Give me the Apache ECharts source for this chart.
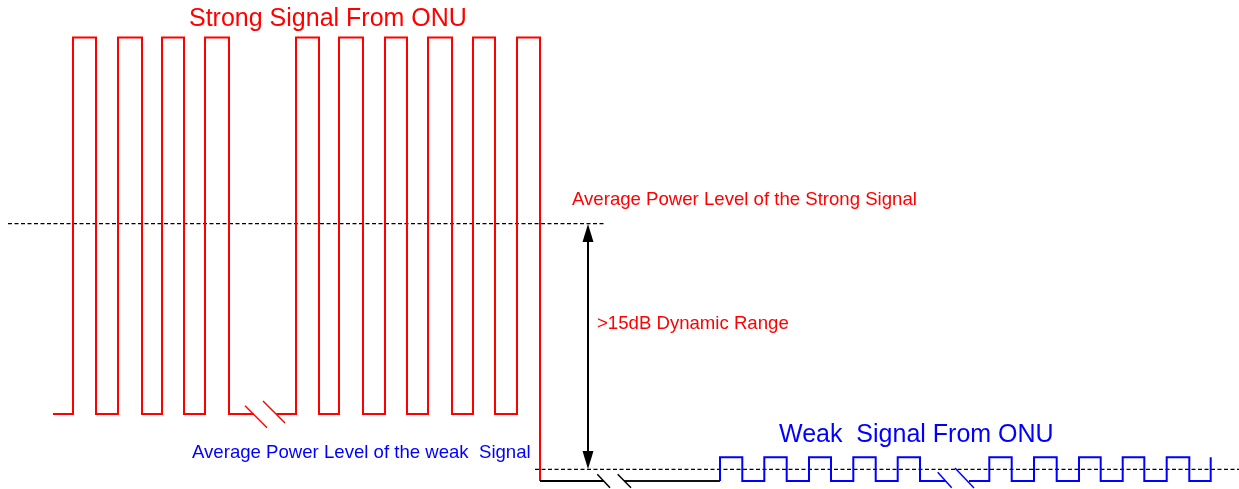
<!DOCTYPE html>
<html>
<head>
<meta charset="utf-8">
<script src="https://cdn.jsdelivr.net/npm/echarts@6/dist/echarts.min.js"></script>
<style>
html,body{margin:0;padding:0;background:#fff;}
#chart{width:1239px;height:489px;}
</style>
</head>
<body>
<div id="chart"></div>
<script>
// ---- Data (diagram coordinates in a 1239 x 489 value space) ----
const strongLevels = { high: 37.5, low: 414, end: 481 };
const weakLevels = { high: 457.3, low: 481 };
const strongStartX = 53;
const strongEdgesA = [73, 96, 118, 142, 162, 184, 205, 229];
const strongBreakGap = [253.6, 276.3];
const strongEdgesB = [296, 319, 339, 363, 385, 407, 428, 452, 473, 495, 517, 540];
const baselineGap = [603.7, 624];
const weakStartX = 720;
const weakEdgesA = [720, 742.3, 764.3, 786.7, 809, 831, 853.3, 875.7, 897.7, 920];
const weakBreakGap = [945.6, 969];
const weakEdgesB = [989.3, 1011.7, 1034, 1056.7, 1079, 1100.7, 1122.7, 1144.3, 1166.7, 1189.3, 1210.7];
const strongAvgLine = { y: 223.7, from: 8, to: 605 };
const weakAvgLine = { y: 469.3, from: 535, to: 1239 };
const rangeArrow = { x: 588, top: 224, bottom: 469 };
const breakRed = [[[245, 405.7], [267, 427.7]], [[263, 401], [285, 423]]];
const breakBlack = [[[597.3, 474.3], [610, 487.7]], [[617.7, 474.3], [631, 487.7]]];
const breakBlue = [[[937.7, 472.3], [951.7, 487.7]], [[955, 468], [974, 488]]];
const labelTexts = ['Strong Signal From ONU', 'Average Power Level of the Strong Signal', '>15dB Dynamic Range', 'Average Power Level of the weak  Signal', 'Weak  Signal From ONU'];
const labelPos = [[189, 19], [572, 200], [597, 324], [192, 453], [779, 435]];
const labelColor = ['#ff0000', '#ff0000', '#ff0000', '#0000ff', '#0000ff'];
const labelSize = [25, 18.6, 18.6, 18.6, 25];

// ---- build polylines from the edge lists ----
function square(startX, startLevel, edges, hi, lo, endX, lastLevel) {
  const pts = [[startX, startLevel]];
  let cur = startLevel;
  edges.forEach((x, i) => {
    pts.push([x, cur]);
    let next = cur === hi ? lo : hi;
    if (i === edges.length - 1 && lastLevel !== undefined) next = lastLevel;
    pts.push([x, next]);
    cur = next;
  });
  if (endX !== undefined) pts.push([endX, cur]);
  return pts;
}
const strongA = square(strongStartX, strongLevels.low, strongEdgesA, strongLevels.high, strongLevels.low, strongBreakGap[0]);
const strongB = square(strongBreakGap[1], strongLevels.low, strongEdgesB, strongLevels.high, strongLevels.low, undefined, strongLevels.end);
const weakA = square(weakStartX, weakLevels.low, weakEdgesA, weakLevels.high, weakLevels.low, weakBreakGap[0]);
const weakB = square(weakBreakGap[1], weakLevels.low, weakEdgesB, weakLevels.high, weakLevels.low);
const blackA = [[strongEdgesB[strongEdgesB.length - 1], weakLevels.low], [baselineGap[0], weakLevels.low]];
const blackB = [[baselineGap[1], weakLevels.low], [weakStartX, weakLevels.low]];

function lineSeries(data, color, width, type) {
  return {
    type: 'line', data: data, symbol: 'none', silent: true, animation: false,
    lineStyle: { color: color, width: width, type: type || 'solid', cap: 'butt', join: 'miter' },
    z: 3
  };
}

const series = [];
series.push(Object.assign(lineSeries([[strongAvgLine.from, strongAvgLine.y], [strongAvgLine.to, strongAvgLine.y]], '#000', 1.3, [4, 2.5]), { z: 1 }));
series.push(Object.assign(lineSeries([[weakAvgLine.from, weakAvgLine.y], [weakAvgLine.to, weakAvgLine.y]], '#000', 1.3, [4, 2.5]), { z: 1 }));
series.push(lineSeries(strongA, '#ff0000', 2));
series.push(lineSeries(strongB, '#ff0000', 2));
series.push(lineSeries(blackA, '#000000', 2));
series.push(lineSeries(blackB, '#111111', 2));
series.push(lineSeries(weakA, '#0000ff', 2));
series.push(lineSeries(weakB, '#0000ff', 2));
breakRed.forEach(s => series.push(lineSeries(s, '#ff0000', 1.5)));
breakBlack.forEach(s => series.push(lineSeries(s, '#000000', 1.5)));
breakBlue.forEach(s => series.push(lineSeries(s, '#0000ff', 1.5)));
// arrow shaft
series.push(lineSeries([[rangeArrow.x, rangeArrow.top + 10], [rangeArrow.x, rangeArrow.bottom - 10]], '#000000', 2));
// arrow heads
series.push({
  type: 'custom', silent: true, animation: false, z: 4,
  data: [[rangeArrow.x, rangeArrow.top, 1], [rangeArrow.x, rangeArrow.bottom, -1]],
  renderItem: function (params, api) {
    const p = api.coord([api.value(0), api.value(1)]);
    const d = api.value(2);
    return {
      type: 'polygon',
      shape: { points: [[p[0], p[1]], [p[0] - 5.5, p[1] + d * 18], [p[0] + 5.5, p[1] + d * 18]] },
      style: { fill: '#000' }
    };
  }
});
// texts
series.push({
  type: 'custom', silent: true, animation: false, z: 5,
  data: labelPos,
  renderItem: function (params, api) {
    const i = params.dataIndex;
    const p = api.coord([api.value(0), api.value(1)]);
    return {
      type: 'text', x: p[0], y: p[1],
      style: {
        text: labelTexts[i], fill: labelColor[i],
        font: labelSize[i] + 'px "Liberation Sans", Arial, sans-serif',
        align: 'left', verticalAlign: 'middle'
      }
    };
  }
});

const chart = echarts.init(document.getElementById('chart'), null, { renderer: 'canvas' });
chart.setOption({
  animation: false,
  backgroundColor: '#ffffff',
  grid: { left: 0, right: 0, top: 0, bottom: 0 },
  xAxis: { type: 'value', min: 0, max: 1239, show: false },
  yAxis: { type: 'value', min: 0, max: 489, inverse: true, show: false },
  series: series
});
</script>
</body>
</html>
